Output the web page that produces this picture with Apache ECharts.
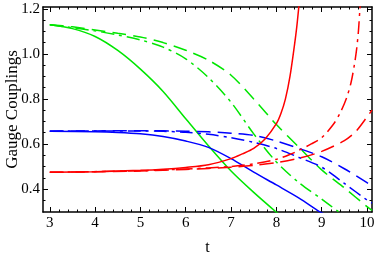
<!DOCTYPE html>
<html><head><meta charset="utf-8">
<script src="https://cdn.jsdelivr.net/npm/echarts@6/dist/echarts.min.js"></script>
<style>html,body{margin:0;padding:0;background:#fff}#c{width:374px;height:253px}</style>
</head><body><div id="c"></div>
<script>
// tick labels
const xTicks = [3, 4, 5, 6, 7, 8, 9, 10];
const yTicks = [0.4, 0.6, 0.8, 1.0, 1.2];
const xMinor = [3.2,3.4,3.6,3.8,4.2,4.4,4.6,4.8,5.2,5.4,5.6,5.8,6.2,6.4,6.6,6.8,7.2,7.4,7.6,7.8,8.2,8.4,8.6,8.8,9.2,9.4,9.6,9.8];
const yMinor = [0.35,0.45,0.5,0.55,0.65,0.7,0.75,0.85,0.9,0.95,1.05,1.1,1.15];
// series values [t, coupling]
const greenSolid = [[3,1.129],[3.5,1.112],[4,1.077],[4.5,1.015],[5,0.932],[5.5,0.833],[6,0.712],[6.5,0.592],[7,0.48],[7.5,0.385],[8,0.297],[8.05,0.29]];
const greenDash = [[3,1.129],[3.5,1.12],[4,1.106],[4.5,1.091],[5,1.075],[5.5,1.05],[6,1.016],[6.5,0.972],[7,0.905],[7.5,0.80],[8,0.686],[8.5,0.585],[9,0.485],[9.5,0.405],[10,0.322],[10.11,0.305]];
const greenDashDot = [[3,1.129],[3.5,1.116],[4,1.102],[4.5,1.084],[5,1.062],[5.5,1.03],[6,0.978],[6.5,0.895],[7,0.785],[7.5,0.645],[8,0.52],[8.5,0.428],[9,0.355],[9.37,0.3],[9.45,0.29]];
const blueSolid = [[3,0.656],[4,0.654],[4.5,0.651],[5,0.645],[5.5,0.633],[6,0.613],[6.5,0.585],[7,0.535],[7.5,0.475],[8,0.418],[8.5,0.36],[8.95,0.3],[9.05,0.29]];
const blueDash = [[3,0.657],[4,0.658],[5,0.659],[6,0.657],[6.5,0.654],[7,0.648],[7.5,0.638],[8,0.613],[8.5,0.58],[9,0.543],[9.5,0.49],[10,0.428],[10.11,0.414]];
const blueDashDot = [[3,0.657],[4,0.658],[5,0.658],[5.5,0.656],[6,0.652],[6.5,0.643],[7,0.628],[7.5,0.607],[8,0.58],[8.5,0.54],[9,0.497],[9.5,0.425],[10,0.351],[10.11,0.338]];
const redSolid = [[3,0.474],[4,0.477],[5,0.483],[5.5,0.488],[6,0.496],[6.5,0.508],[7,0.535],[7.25,0.556],[7.5,0.58],[7.75,0.622],[8,0.69],[8.1,0.735],[8.2,0.80],[8.3,0.9],[8.4,1.04],[8.45,1.12],[8.5,1.22],[8.52,1.27]];
const redDash = [[3,0.474],[5,0.48],[6,0.487],[7,0.497],[7.5,0.505],[8,0.517],[8.5,0.537],[9,0.567],[9.5,0.615],[9.75,0.655],[10,0.72],[10.11,0.75]];
const redDashDot = [[3,0.474],[5,0.481],[6,0.489],[7,0.5],[7.5,0.512],[8,0.532],[8.34,0.557],[8.5,0.572],[8.77,0.6],[9,0.628],[9.25,0.685],[9.4,0.735],[9.55,0.805],[9.65,0.875],[9.72,0.95],[9.77,1.02],[9.81,1.1],[9.84,1.19],[9.86,1.25]];

const FONT = '"Liberation Serif","DejaVu Serif",serif';
const X_MIN = 2.85, X_MAX = 10.11, Y_MIN = 0.298, Y_MAX = 1.208;
const GREEN = '#00e600', BLUE = '#0000ff', RED = '#ff0000';
const DASH = [14, 7];
const DASHDOT = [13, 5, 3, 5];

function xAx(pos, ticks, len, labels, line) {
  return {
    type: 'value', position: pos, min: X_MIN, max: X_MAX, offset: 0,
    axisLine: { show: line, onZero: false, lineStyle: { color: '#000', width: 1.5 } },
    axisTick: { show: true, inside: true, length: len, customValues: ticks, lineStyle: { color: '#000', width: 1 } },
    axisLabel: labels ? { show: true, customValues: ticks, color: '#000', fontFamily: FONT, fontSize: 15, margin: 4 } : { show: false },
    splitLine: { show: false }
  };
}
function yAx(pos, ticks, len, labels, line) {
  return {
    type: 'value', position: pos, min: Y_MIN, max: Y_MAX, offset: 0,
    axisLine: { show: line, onZero: false, lineStyle: { color: '#000', width: 1.5 } },
    axisTick: { show: true, inside: true, length: len, customValues: ticks, lineStyle: { color: '#000', width: 1 } },
    axisLabel: labels ? { show: true, customValues: ticks, color: '#000', fontFamily: FONT, fontSize: 15, margin: 3, formatter: v => v.toFixed(1) } : { show: false },
    splitLine: { show: false }
  };
}
const xAxes = [xAx('bottom', xTicks, 5, true, true), xAx('bottom', xMinor, 2.5, false, false), xAx('top', xTicks, 5, false, true), xAx('top', xMinor, 2.5, false, false)];
const yAxes = [yAx('left', yTicks, 5, true, true), yAx('left', yMinor, 2.5, false, false), yAx('right', yTicks, 5, false, true), yAx('right', yMinor, 2.5, false, false)];
xAxes[0].name = 't'; xAxes[0].nameLocation = 'middle'; xAxes[0].nameGap = 28; xAxes[0].nameMoveOverlap = false;
xAxes[0].nameTextStyle = { color: '#000', fontFamily: FONT, fontSize: 16 };
yAxes[0].name = 'Gauge Couplings'; yAxes[0].nameLocation = 'middle'; yAxes[0].nameGap = 22; yAxes[0].nameMoveOverlap = false;
yAxes[0].nameTextStyle = { color: '#000', fontFamily: FONT, fontSize: 17 };

function s(data, color, type) {
  return { type: 'line', data: data, showSymbol: false, symbol: 'none', smooth: 0.3, clip: true,
    xAxisIndex: 0, yAxisIndex: 0, lineStyle: { color: color, width: 1.5, type: type }, animation: false };
}
const chart = echarts.init(document.getElementById('c'), null, { renderer: 'canvas' });
chart.setOption({
  animation: false,
  grid: { left: 43, right: 2, top: 7, bottom: 41, containLabel: false, outerBoundsMode: 'none' },
  xAxis: xAxes, yAxis: yAxes,
  series: [
    s(greenSolid, GREEN, 'solid'), s(greenDash, GREEN, DASH), s(greenDashDot, GREEN, DASHDOT),
    s(blueSolid, BLUE, 'solid'), s(blueDash, BLUE, DASH), s(blueDashDot, BLUE, DASHDOT),
    s(redSolid, RED, 'solid'), s(redDash, RED, DASH), s(redDashDot, RED, DASHDOT)
  ]
});
</script></body></html>
